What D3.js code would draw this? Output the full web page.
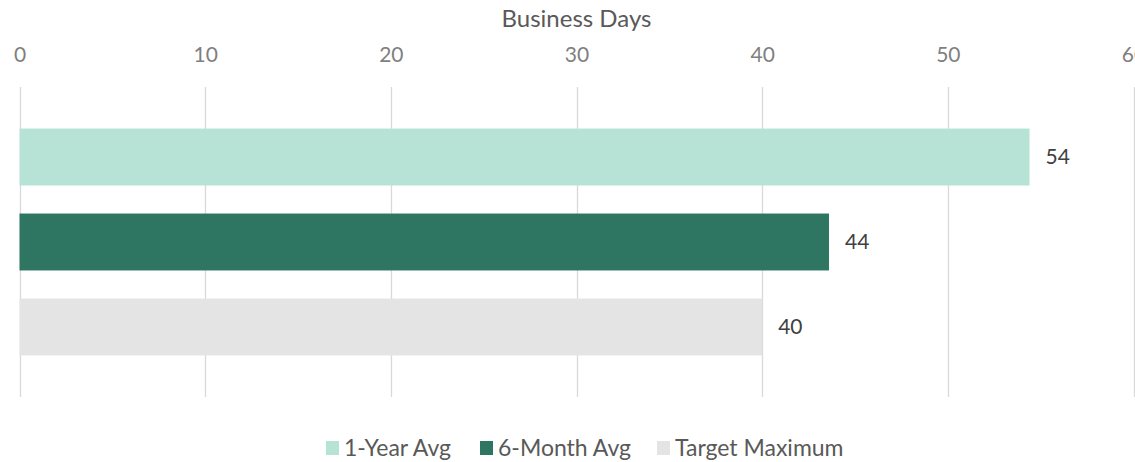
<!DOCTYPE html>
<html>
<head>
<meta charset="utf-8">
<script src="https://cdn.jsdelivr.net/npm/d3@7"></script>
<style>
  html, body { margin: 0; padding: 0; background: #fff; }
  svg { display: block; }
  text { font-family: Lato, "Open Sans", sans-serif; }
</style>
</head>
<body>
<div id="chart"></div>
<script>
const categories = ["1-Year Avg", "6-Month Avg", "Target Maximum"];
const values = [54.4, 43.6, 40];
const colors = ["#b7e3d6", "#2e7562", "#e4e4e4"];
const xTicks = [0, 10, 20, 30, 40, 50, 60];
const axisTitle = "Business Days";

const W = 1135, H = 462;
const margin = { left: 19.5, right: 1.5, top: 87, bottom: 65 };

const svg = d3.select("#chart").append("svg")
  .attr("width", W).attr("height", H);

const x = d3.scaleLinear().domain([0, 60]).range([margin.left, W - margin.right]);
const y = d3.scaleBand().domain(categories)
  .range([margin.top, H - margin.bottom]).paddingInner(0.33).paddingOuter(0.489);

// gridlines
svg.append("g").selectAll("line").data(xTicks).join("line")
  .attr("x1", d => Math.round(x(d)) + 0.5).attr("x2", d => Math.round(x(d)) + 0.5)
  .attr("y1", margin.top).attr("y2", H - margin.bottom)
  .attr("stroke", "#d9d9d9").attr("stroke-width", 1.3);

// top axis labels
const axis = d3.axisTop(x).tickValues(xTicks).tickSize(0).tickPadding(0);
const ag = svg.append("g").attr("transform", `translate(0, 62)`).call(axis);
ag.select(".domain").remove();
ag.selectAll("text").attr("fill", "#7f7f7f").style("font-size", "21px")
  .style("font-family", "Lato, sans-serif");

// axis title
svg.append("text").attr("x", (x(0) + x(60)) / 2).attr("y", 27)
  .attr("text-anchor", "middle").attr("fill", "#595959")
  .style("font-size", "24px").text(axisTitle);

// bars
svg.append("g").selectAll("rect").data(categories).join("rect")
  .attr("x", x(0)).attr("y", d => y(d))
  .attr("width", (d, i) => x(values[i]) - x(0))
  .attr("height", y.bandwidth())
  .attr("fill", (d, i) => colors[i]);

// data labels
const fmt = d3.format(".0f");
svg.append("g").selectAll("text").data(categories).join("text")
  .attr("x", (d, i) => x(values[i]) + 16)
  .attr("y", d => y(d) + y.bandwidth() / 2)
  .attr("dy", "0.35em").attr("fill", "#404040")
  .style("font-size", "21px")
  .text((d, i) => fmt(values[i]));

// legend
const legendX = [326, 480, 657];
const lg = svg.append("g");
categories.forEach((c, i) => {
  lg.append("rect").attr("x", legendX[i]).attr("y", 441)
    .attr("width", 13).attr("height", 14).attr("fill", colors[i]);
  lg.append("text").attr("x", legendX[i] + 18).attr("y", 448)
    .attr("dy", "0.35em").attr("fill", "#595959")
    .style("font-size", "23px").text(c);
});
</script>
</body>
</html>
